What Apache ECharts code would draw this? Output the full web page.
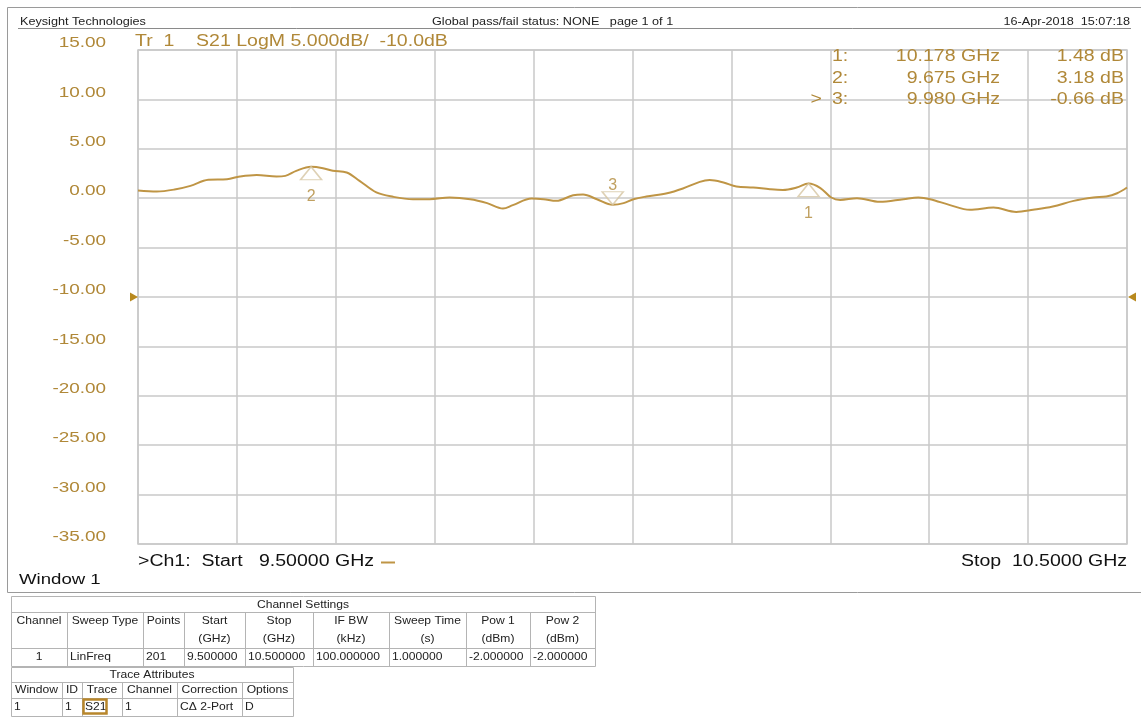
<!DOCTYPE html>
<html>
<head>
<meta charset="utf-8">
<title>S21 LogM</title>
<script src="https://cdn.jsdelivr.net/npm/echarts@6/dist/echarts.min.js"></script>
<style>
  html, body { margin: 0; padding: 0; background: #fff; }
  #chart { width: 1141px; height: 721px; }
</style>
</head>
<body>
<div id="chart"></div>
<script>
// Trace S21 (LogM): frequency in GHz and magnitude in dB
const freqGHz = [9.500, 9.519, 9.537, 9.553, 9.571, 9.590, 9.603, 9.620, 9.640, 9.649,
  9.660, 9.675, 9.687, 9.697, 9.711, 9.724, 9.741, 9.758, 9.778, 9.795,
  9.815, 9.836, 9.853, 9.869, 9.879, 9.898, 9.910, 9.923, 9.940, 9.950,
  9.964, 9.980, 9.991, 10.001, 10.014, 10.035, 10.051, 10.068, 10.078, 10.092,
  10.105, 10.122, 10.139, 10.152, 10.166, 10.178, 10.190, 10.201, 10.210, 10.227,
  10.250, 10.274, 10.289, 10.301, 10.321, 10.341, 10.365, 10.388, 10.405, 10.425,
  10.446, 10.466, 10.479, 10.490, 10.500];
const s21dB = [0.78, 0.68, 0.88, 1.25, 1.86, 1.93, 2.20, 2.36, 2.20, 2.26,
  2.77, 3.18, 3.04, 2.77, 2.60, 1.76, 0.58, 0.14, -0.10, -0.10,
  0.07, -0.10, -0.50, -1.05, -0.70, -0.03, -0.10, -0.27, 0.30, 0.37,
  -0.10, -0.66, -0.50, -0.10, 0.17, 0.50, 0.98, 1.65, 1.83, 1.59,
  1.19, 1.08, 0.91, 0.84, 1.08, 1.48, 1.03, 0.07, -0.17, 0.00,
  -0.37, -0.10, 0.07, -0.10, -0.70, -1.18, -0.95, -1.39, -1.18, -0.85,
  -0.27, 0.07, 0.17, 0.50, 1.08];

// Markers 1..3
const markerFreq = [10.178, 9.675, 9.980];
const markerDB = [1.48, 3.18, -0.66];
const activeMarker = 3;

// Scale settings and tick labels
const yMin = -35, yMax = 15, yDiv = 5;
const yTicks = [15, 10, 5, 0, -5, -10, -15, -20, -25, -30, -35];
const xStart = 9.5, xStop = 10.5, xDiv = 0.1;
const refLevel = -10;

// Channel / trace tables
const channelHeaders = [['Channel', ''], ['Sweep Type', ''], ['Points', ''], ['Start', '(GHz)'],
  ['Stop', '(GHz)'], ['IF BW', '(kHz)'], ['Sweep Time', '(s)'], ['Pow 1', '(dBm)'], ['Pow 2', '(dBm)']];
const channelRow = ['1', 'LinFreq', '201', '9.500000', '10.500000', '100.000000', '1.000000', '-2.000000', '-2.000000'];
const traceHeaders = ['Window', 'ID', 'Trace', 'Channel', 'Correction', 'Options'];
const traceRow = ['1', '1', 'S21', '1', 'C\u0394 2-Port', 'D'];

const GOLD_TEXT = '#B08838';
const TRACE_COLOR = '#BF9545';
const GRID_COLOR = '#c8c8c8';
const FONT = '"Liberation Sans", Arial, Helvetica, sans-serif';
const WIDE = 1.22;   // the analyzer font is drawn wide

const chart = echarts.init(document.getElementById('chart'), null, { renderer: 'canvas' });

const traceData = freqGHz.map((f, i) => [f, s21dB[i]]);
const markerData = markerFreq.map((f, i) => {
  const down = (i + 1) === activeMarker;
  return {
    value: [f, markerDB[i]],
    symbolRotate: down ? 180 : 0,
    symbolOffset: [0, down ? -6.5 : 6.5],
    label: { position: down ? 'top' : 'bottom', distance: down ? -2 : 8 }
  };
});

chart.setOption({
  animation: false,
  backgroundColor: '#fff',
  grid: { left: 138, right: 14, top: 50, bottom: 177, show: true, borderColor: GRID_COLOR, borderWidth: 1.5 },
  xAxis: {
    type: 'value', min: xStart, max: xStop, interval: xDiv,
    axisLine: { show: false }, axisTick: { show: false }, axisLabel: { show: false },
    splitLine: { show: true, lineStyle: { color: GRID_COLOR, width: 1.5 } }
  },
  yAxis: {
    type: 'value', min: yMin, max: yMax, interval: yDiv,
    axisLine: { show: false }, axisTick: { show: false }, axisLabel: { show: false },
    splitLine: { show: true, lineStyle: { color: GRID_COLOR, width: 1.5 } }
  },
  series: [
    {
      type: 'line', data: traceData, smooth: 0.35, showSymbol: false, silent: true,
      lineStyle: { color: TRACE_COLOR, width: 2 }, z: 3,
      markPoint: {
        silent: true,
        label: { show: false },
        data: [
          { coord: [xStart, refLevel], symbol: 'triangle', symbolSize: [9, 8], symbolRotate: -90, symbolOffset: [-4, 0],
            itemStyle: { color: '#B8891E' } },
          { coord: [xStop, refLevel], symbol: 'triangle', symbolSize: [9, 8], symbolRotate: 90, symbolOffset: [5, 0],
            itemStyle: { color: '#B8891E' } }
        ]
      }
    },
    {
      type: 'scatter', data: markerData, symbol: 'triangle', symbolSize: [21, 13], silent: true, z: 4,
      itemStyle: { color: 'rgba(255,255,255,0.35)', borderColor: '#d6c5a2', borderWidth: 1.5 },
      label: {
        show: true, color: GOLD_TEXT, fontSize: 16, fontFamily: FONT,
        formatter: p => String(p.dataIndex + 1)
      }
    }
  ]
});

const G = [];
function txt(x, y, s, size, color, align, sx) {
  G.push({ type: 'text', x: x, y: y, scaleX: sx || 1, silent: true,
    style: { text: s, x: 0, y: 0, fill: color || '#111', textAlign: align || 'left', textVerticalAlign: 'middle',
      font: size + 'px ' + FONT } });
}
function hline(x1, x2, y, color, w) {
  G.push({ type: 'line', silent: true, shape: { x1: x1, y1: y, x2: x2, y2: y }, style: { stroke: color, lineWidth: w || 1 } });
}
function vline(x, y1, y2, color, w) {
  G.push({ type: 'line', silent: true, shape: { x1: x, y1: y1, x2: x, y2: y2 }, style: { stroke: color, lineWidth: w || 1 } });
}

// Y scale labels, placed from the value axis
yTicks.forEach(v => {
  const py = chart.convertToPixel({ yAxisIndex: 0 }, v);
  txt(106, py - 7, v.toFixed(2), 15.5, GOLD_TEXT, 'right', WIDE);
});

// Page frame and header
hline(7.5, 1141, 7.5, '#9a9a9a', 1);
vline(7.5, 7.5, 592.5, '#9a9a9a', 1);
hline(7.5, 1141, 592.5, '#9a9a9a', 1);
hline(18, 1131, 28.5, '#8a8a8a', 1);
txt(20, 22, 'Keysight Technologies', 11, '#222', 'left', 1.15);
txt(432, 22, 'Global pass/fail status: NONE   page 1 of 1', 11, '#222', 'left', 1.15);
txt(1130, 22, '16-Apr-2018  15:07:18', 11, '#222', 'right', 1.15);

// Trace title
txt(135, 42, 'Tr  1    S21 LogM ' + yDiv.toFixed(3) + 'dB/  ' + refLevel.toFixed(1) + 'dB', 16, GOLD_TEXT, 'left', WIDE);

// Marker readout
for (let i = 0; i < markerFreq.length; i++) {
  const y = 57 + i * 21.5;
  if (i + 1 === activeMarker) txt(822, y, '>', 16, GOLD_TEXT, 'right', WIDE);
  txt(832, y, (i + 1) + ':', 16, GOLD_TEXT, 'left', WIDE);
  txt(1000, y, markerFreq[i].toFixed(3) + ' GHz', 16, GOLD_TEXT, 'right', WIDE);
  txt(1124, y, markerDB[i].toFixed(2) + ' dB', 16, GOLD_TEXT, 'right', WIDE);
}

// Sweep annotation
txt(138, 562, '>Ch1:  Start   ' + xStart.toFixed(5) + ' GHz', 16, '#111', 'left', WIDE);
hline(381, 395, 562.5, TRACE_COLOR, 2);
txt(1127, 562, 'Stop  ' + xStop.toFixed(4) + ' GHz', 16, '#111', 'right', WIDE);
txt(19, 580, 'Window 1', 15.5, '#111', 'left', 1.2);

// Channel Settings table
const TB = '#b4b4b4';
const TS = 1.1;
const cEdges = [11, 67, 143, 184, 245, 313, 389, 466, 530, 595];
const cTop = 596, cTitleB = 612, cHeadB = 648, cBot = 666;
G.push({ type: 'rect', silent: true, shape: { x: cEdges[0] + 0.5, y: cTop + 0.5, width: cEdges[cEdges.length - 1] - cEdges[0], height: cBot - cTop },
  style: { fill: '#fff', stroke: TB, lineWidth: 1 } });
hline(cEdges[0], cEdges[cEdges.length - 1], cTitleB + 0.5, TB);
hline(cEdges[0], cEdges[cEdges.length - 1], cHeadB + 0.5, TB);
for (let i = 1; i < cEdges.length - 1; i++) vline(cEdges[i] + 0.5, cTitleB, cBot, TB);
function ctext(x0, x1, y, s) {
  // centred label: scale about the cell centre
  G.push({ type: 'text', x: (x0 + x1) / 2, y: y, scaleX: TS, silent: true,
    style: { text: s, x: 0, y: 0, fill: '#222', textAlign: 'center', textVerticalAlign: 'middle', font: '11px ' + FONT } });
}
ctext(cEdges[0], cEdges[cEdges.length - 1], (cTop + cTitleB) / 2 + 0.5, 'Channel Settings');
for (let i = 0; i < channelHeaders.length; i++) {
  ctext(cEdges[i], cEdges[i + 1], 621, channelHeaders[i][0]);
  if (channelHeaders[i][1]) ctext(cEdges[i], cEdges[i + 1], 639, channelHeaders[i][1]);
  if (i === 0) ctext(cEdges[i], cEdges[i + 1], 657, channelRow[i]);
  else txt(cEdges[i] + 3, 657, channelRow[i], 11, '#222', 'left', TS);
}

// Trace Attributes table
const tEdges = [11, 62, 82, 122, 177, 242, 293];
const tTop = 667, tTitleB = 682, tHeadB = 698, tBot = 716;
G.push({ type: 'rect', silent: true, shape: { x: tEdges[0] + 0.5, y: tTop + 0.5, width: tEdges[tEdges.length - 1] - tEdges[0], height: tBot - tTop },
  style: { fill: '#fff', stroke: TB, lineWidth: 1 } });
hline(tEdges[0], tEdges[tEdges.length - 1], tTitleB + 0.5, TB);
hline(tEdges[0], tEdges[tEdges.length - 1], tHeadB + 0.5, TB);
for (let i = 1; i < tEdges.length - 1; i++) vline(tEdges[i] + 0.5, tTitleB, tBot, TB);
ctext(tEdges[0], tEdges[tEdges.length - 1], (tTop + tTitleB) / 2 + 0.5, 'Trace Attributes');
for (let i = 0; i < traceHeaders.length; i++) {
  ctext(tEdges[i], tEdges[i + 1], 690, traceHeaders[i]);
  txt(tEdges[i] + 3, 707, traceRow[i], 11, '#222', 'left', TS);
}
// highlighted trace cell
G.push({ type: 'rect', silent: true, shape: { x: 83.5, y: 699.5, width: 23, height: 14 },
  style: { fill: 'none', stroke: '#B8862B', lineWidth: 2.5 } });

chart.setOption({ graphic: { elements: G } });
</script>
</body>
</html>
